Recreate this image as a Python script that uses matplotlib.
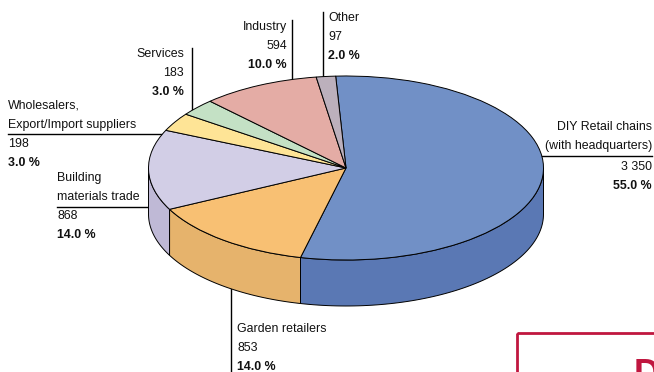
import numpy as np
import matplotlib.pyplot as plt
from matplotlib.patches import Polygon, Rectangle

plt.rcParams['font.family'] = ['Liberation Sans', 'DejaVu Sans']

# data (clockwise from the top)
segments = ["DIY Retail chains", "Garden retailers", "Building materials trade",
            "Wholesalers, Export/Import suppliers", "Services", "Industry", "Other"]
values = [3350, 853, 868, 198, 183, 594, 97]
shares = ["55.0 %", "14.0 %", "14.0 %", "3.0 %", "3.0 %", "10.0 %", "2.0 %"]
top_colors = ["#7190c6", "#f8c073", "#d2cee6", "#fee496", "#c4e1c5", "#e4aca5", "#bcb0bc"]
side_colors = ["#5a78b4", "#e6b36c", "#bfb9d6", "#f0d488", "#b0cdb1", "#d09890", "#a89ca8"]

W, H = 654, 372
fig = plt.figure(figsize=(W / 100, H / 100), dpi=100)

# text layer in pixel coords
tax = fig.add_axes([0, 0, 1, 1])
tax.set_xlim(0, W)
tax.set_ylim(H, 0)
tax.axis("off")

# pie layer: unit ellipse mapped onto the pie's top face
cx, cy, rx, ry, depth = 346, 168, 197.5, 92, 46
pax = fig.add_axes([(cx - rx) / W, (H - cy - ry) / H, 2 * rx / W, 2 * ry / H])

wedges, _ = pax.pie(values, colors=top_colors, startangle=93, counterclock=False,
                    radius=1, wedgeprops=dict(edgecolor="black", linewidth=0.7, zorder=3))
pax.set_aspect("auto")
pax.set_xlim(-1, 1)
pax.set_ylim(-1, 1)
pax.axis("off")
for w in wedges:
    w.set_clip_on(False)

d = depth / ry
for w, sc in zip(wedges, side_colors):
    t1, t2 = w.theta1, w.theta2
    for k in (-360, 0, 360):
        a, b = max(t1 + k, 180), min(t2 + k, 360)
        if b > a:
            t = np.radians(np.linspace(a, b, 80))
            top = np.column_stack([np.cos(t), np.sin(t)])
            bot = np.column_stack([np.cos(t[::-1]), np.sin(t[::-1]) - d])
            pax.add_patch(Polygon(np.vstack([top, bot]), closed=True, facecolor=sc,
                                  edgecolor="black", linewidth=0.7, zorder=2, clip_on=False))

fs = 8.9
lh = 19


def block(x, y, lines, ha="left"):
    for i, s in enumerate(lines):
        bold = s.endswith("%")
        tax.text(x, y + i * lh, s, ha=ha, va="center", fontsize=fs,
                 fontweight="bold" if bold else "normal", color="#111111")


lc = dict(color="black", linewidth=1.0)

# DIY
block(652, 127, ["DIY Retail chains", "(with headquarters)"], ha="right")
block(652, 167, [f"{values[0]:,}".replace(",", " "), shares[0]], ha="right")
tax.plot([492, 652], [156, 156], **lc)

# Garden retailers
block(237, 329, ["Garden retailers", str(values[1]), shares[1]])
tax.plot([231, 231], [230, 380], clip_on=False, **lc)

# Building materials trade
block(57, 178, ["Building", "materials trade", str(values[2]), shares[2]])
tax.plot([57, 185], [207, 207], **lc)

# Wholesalers
block(8, 106, ["Wholesalers,", "Export/Import suppliers", str(values[3]), shares[3]])
tax.plot([8, 180], [134, 134], **lc)

# Services
block(184, 54, ["Services", str(values[4]), shares[4]], ha="right")
tax.plot([192, 192], [48, 122], **lc)

# Industry
block(287, 27, ["Industry", str(values[5]), shares[5]], ha="right")
tax.plot([292, 292], [20, 103], **lc)

# Other
block(328, 18, ["Other", str(values[6]), shares[6]])
tax.plot([323, 323], [12, 80], **lc)

# cropped box from the page layout
tax.add_patch(Rectangle((517, 333), 200, 100, fill=False, edgecolor="#c0163f",
                        linewidth=2, clip_on=True))
tax.text(634, 358, "D", ha="left", va="top", fontsize=26, fontweight="bold",
         color="#c0163f", clip_on=True)

fig.savefig("out.png", dpi=100)
